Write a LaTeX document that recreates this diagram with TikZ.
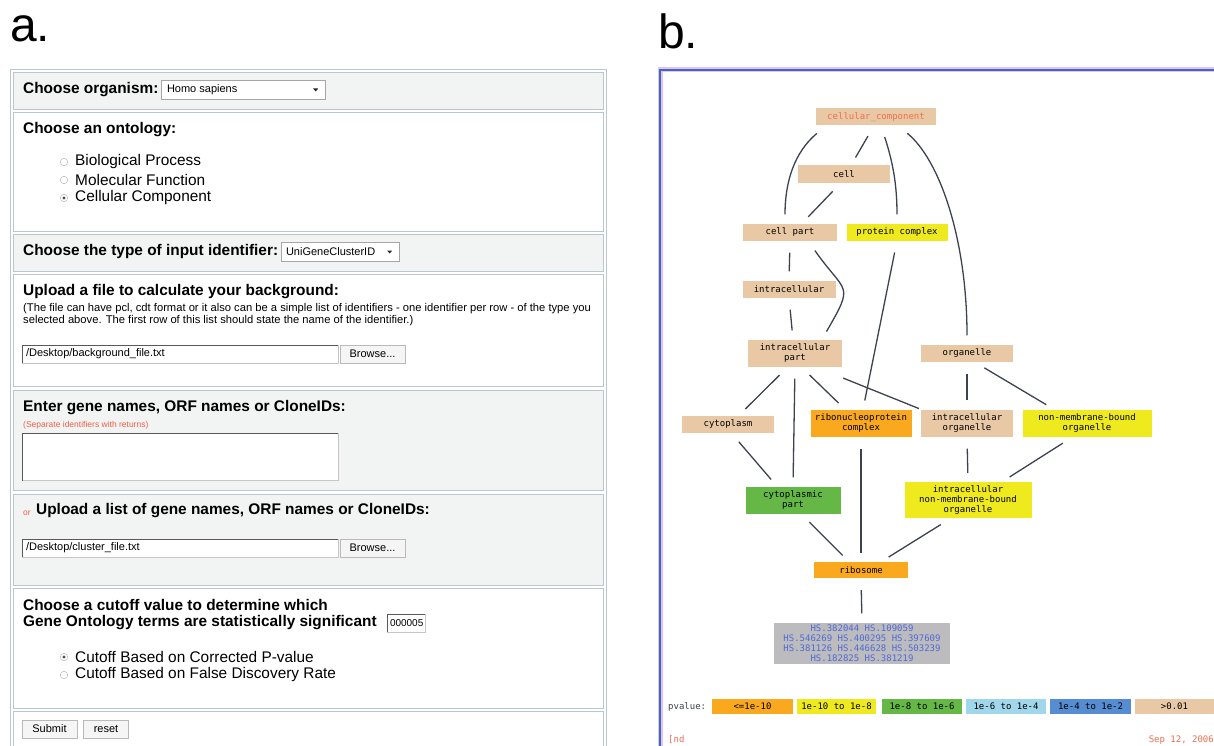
\documentclass[tikz,border=0pt]{standalone}
\usepackage{fontspec}
\setmainfont{Liberation Sans}
\newfontfamily\gofont{DejaVu Sans Mono}

\definecolor{formgray}{RGB}{242,244,244}
\definecolor{framegray}{RGB}{185,200,205}
\definecolor{noteorange}{RGB}{240,95,70}
\definecolor{panelblue}{RGB}{45,110,200}
\definecolor{panelpink}{RGB}{240,190,225}
\definecolor{linkgray}{RGB}{60,66,78}
\definecolor{tanbox}{RGB}{233,201,165}
\definecolor{goorange}{RGB}{250,168,30}
\definecolor{goyellow}{RGB}{238,234,30}
\definecolor{gogreen}{RGB}{102,184,70}
\definecolor{golightblue}{RGB}{160,215,235}
\definecolor{goblue}{RGB}{85,140,210}
\definecolor{genegray}{RGB}{188,188,190}
\definecolor{geneblue}{RGB}{80,105,215}
\definecolor{compred}{RGB}{238,110,80}

\begin{document}
\begin{tikzpicture}[x=1pt,y=-1pt]
	\tikzstyle{panel}=[anchor=base west,inner sep=0pt,font=\fontsize{48}{50}\selectfont]
	\tikzstyle{section}=[draw=framegray,fill=formgray,line width=0.8pt]
	\tikzstyle{sectionw}=[draw=framegray,fill=white,line width=0.8pt]
	\tikzstyle{heading}=[anchor=west,inner sep=0pt,font=\fontsize{15.4}{18}\selectfont\bfseries]
	\tikzstyle{choice}=[anchor=west,inner sep=0pt,font=\fontsize{15.4}{18}\selectfont]
	\tikzstyle{field}=[anchor=west,inner sep=0pt,font=\fontsize{11}{13}\selectfont]
	\tikzstyle{note}=[anchor=north west,inner sep=0pt,align=left,font=\fontsize{11.2}{12.5}\selectfont]
	\tikzstyle{rednote}=[anchor=west,inner sep=0pt,text=noteorange,font=\fontsize{8.5}{10}\selectfont]
	\tikzstyle{dropbox}=[draw=gray!70,fill=white,minimum height=19pt,inner sep=0pt]
	\tikzstyle{inputbox}=[draw=gray!45,fill=white,minimum height=18pt,inner sep=0pt]
	\tikzstyle{button}=[draw=gray!55,fill=gray!8,minimum height=18pt,inner sep=0pt,font=\fontsize{11}{13}\selectfont]
	\tikzstyle{radio}=[circle,draw=gray!60,fill=white,minimum size=7.5pt,inner sep=0pt]
	\tikzstyle{term}=[rectangle,fill=tanbox,minimum height=17pt,inner sep=0pt,align=center,font=\gofont\fontsize{9}{10}\selectfont]
	\tikzstyle{term2}=[term,minimum height=27pt]
	\tikzstyle{term3}=[term,minimum height=36pt]
	\tikzstyle{link}=[draw=linkgray,line width=1.3pt,shorten <=12pt,shorten >=9pt]
	\tikzstyle{key}=[rectangle,minimum height=15pt,inner sep=0pt,font=\gofont\fontsize{9}{10}\selectfont]
	\tikzstyle{foot}=[anchor=west,inner sep=0pt,text=compred,font=\gofont\fontsize{9}{10}\selectfont]
	
	\useasboundingbox (0,0) rectangle (1214,746);
	
	\node[panel](labela) at (10,42){a.};
	\node[panel](labelb) at (658,49){b.};
	
	% form
	\draw[framegray,line width=0.8pt] (10,760) -- (10,69) -- (606,69) -- (606,760);
	\filldraw[section] (13,72) rectangle (603,109);
	\filldraw[sectionw] (13,112) rectangle (603,231);
	\filldraw[section] (13,234) rectangle (603,271);
	\filldraw[sectionw] (13,274) rectangle (603,386);
	\filldraw[section] (13,390) rectangle (603,490);
	\filldraw[section] (13,494) rectangle (603,585);
	\filldraw[sectionw] (13,588) rectangle (603,708);
	\filldraw[sectionw] (13,711) rectangle (603,760);
	
	\node[heading](orglabel) at (23,90){Choose organism:};
	\node[dropbox,minimum width=164pt](orgbox) at (243,90){};
	\node[field](orgtext) at ([xshift=6pt]orgbox.west){Homo sapiens};
	\fill[gray!30!black] ([xshift=-12pt,yshift=1.5pt]orgbox.east) -- ++(5,0) -- ++(-2.5,3) -- cycle;
	
	\node[heading](ontlabel) at (23,130){Choose an ontology:};
	\node[radio](radbp) at (64,162){};
	\node[choice](optbp) at (75,162){Biological Process};
	\node[radio](radmf) at (64,180){};
	\node[choice](optmf) at (75,180){Molecular Function};
	\node[radio](radcc) at (64,198){};
	\node[choice](optcc) at (75,198){Cellular Component};
	\fill[gray!60!black] (radcc) circle (1.6pt);
	
	\node[heading](idlabel) at (23,252){Choose the type of input identifier:};
	\node[dropbox,minimum width=118pt](idbox) at (340,252){};
	\node[field](idtext) at ([xshift=5pt]idbox.west){UniGeneClusterID};
	\fill[gray!30!black] ([xshift=-12pt,yshift=1.5pt]idbox.east) -- ++(5,0) -- ++(-2.5,3) -- cycle;
	
	\node[heading](bglabel) at (23,292){Upload a file to calculate your background:};
	\node[note](bgnote) at (23,303){(The file can have pcl, cdt format or it also can be a simple list of identifiers - one identifier per row - of the type you\\selected above. The first row of this list should state the name of the identifier.)};
	\node[inputbox,minimum width=316pt](bgfile) at (180,354){};
	\draw[gray!70!black] (bgfile.south west) -- (bgfile.north west) -- (bgfile.north east);
	\node[field](bgtext) at ([xshift=4pt]bgfile.west){/Desktop/background\_file.txt};
	\node[button,minimum width=65pt](bgbrowse) at (372.5,354){Browse...};
	
	\node[heading](genelabel) at (23,408){Enter gene names, ORF names or CloneIDs:};
	\node[rednote](genenote) at (23,425){(Separate identifiers with returns)};
	\node[inputbox,minimum width=316pt,minimum height=47pt](genearea) at (180,457){};
	\draw[gray!70!black] (genearea.south west) -- (genearea.north west) -- (genearea.north east);
	
	\node[rednote](orlabel) at (23,513){or};
	\node[heading](listlabel) at (36,511){Upload a list of gene names, ORF names or CloneIDs:};
	\node[inputbox,minimum width=316pt](listfile) at (180,548){};
	\draw[gray!70!black] (listfile.south west) -- (listfile.north west) -- (listfile.north east);
	\node[field](listtext) at ([xshift=4pt]listfile.west){/Desktop/cluster\_file.txt};
	\node[button,minimum width=65pt](listbrowse) at (372.5,548){Browse...};
	
	\node[heading](cutlabel) at (23,605){Choose a cutoff value to determine which};
	\node[heading](cutlabelb) at (23,623){Gene Ontology terms are statistically significant};
	\node[inputbox,minimum width=38pt](cutvalue) at (406,623){};
	\draw[gray!70!black] (cutvalue.south west) -- (cutvalue.north west) -- (cutvalue.north east);
	\node[field,font=\fontsize{10}{12}\selectfont](cuttext) at ([xshift=3pt]cutvalue.west){000005};
	\node[radio](radpv) at (64,657){};
	\node[choice](optpv) at (75,657){Cutoff Based on Corrected P-value};
	\fill[gray!60!black] (radpv) circle (1.6pt);
	\node[radio](radfdr) at (64,675){};
	\node[choice](optfdr) at (75,675){Cutoff Based on False Discovery Rate};
	
	\node[button,minimum width=55pt](submit) at (49.5,729){Submit};
	\node[button,minimum width=45pt](reset) at (106,729){reset};
	
	% GO graph
	\draw[panelpink,line width=5pt] (660,760) -- (660,70) -- (1220,70);
	\draw[panelblue,line width=2.5pt] (660,760) -- (660,70) -- (1220,70);
	
	\node[term,text=compred,minimum width=120pt](cellcomp) at (876,117){cellular\_component};
	\node[term,minimum width=92pt](cell) at (844,174){cell};
	\node[term,minimum width=94pt](cellpart) at (790,232){cell part};
	\node[term,fill=goyellow,minimum width=101pt](protcx) at (897,232){protein complex};
	\node[term,minimum width=93pt](intra) at (789,289){intracellular};
	\node[term2,minimum width=94pt](intrapart) at (795,353){intracellular\\part};
	\node[term,minimum width=92pt](organelle) at (967,353){organelle};
	\node[term,minimum width=92pt](cyto) at (728,424){cytoplasm};
	\node[term2,fill=goorange,minimum width=101pt](ribonuc) at (861,423){ribonucleoprotein\\complex};
	\node[term2,minimum width=92pt](intraorg) at (967,423){intracellular\\organelle};
	\node[term2,fill=goyellow,minimum width=129pt](nmborg) at (1087,423){non-membrane-bound\\organelle};
	\node[term2,fill=gogreen,minimum width=95pt](cytopart) at (793,500){cytoplasmic\\part};
	\node[term3,fill=goyellow,minimum width=127pt](inmborg) at (968,500){intracellular\\non-membrane-bound\\organelle};
	\node[term,fill=goorange,minimum width=94pt,minimum height=16pt](ribosome) at (861,570){ribosome};
	\node[term3,fill=genegray,text=geneblue,minimum width=176pt,minimum height=41pt](genes) at (862,643){HS.382044 HS.109059\\HS.546269 HS.400295 HS.397609\\HS.381126 HS.446628 HS.503239\\HS.182825 HS.381219};
	
	\draw[link] ([xshift=-50pt]cellcomp.south) to[out=220,in=90] ([xshift=-5pt]cellpart.north);
	\draw[link] ([xshift=-2pt]cellcomp.south) -- ([xshift=7pt]cell.north);
	\draw[link] ([xshift=5pt]cellcomp.south) to[out=-72,in=90] (protcx.north);
	\draw[link] ([xshift=22pt]cellcomp.south) .. controls (940,160) and (967,240) .. (organelle.north);
	
	\draw[link] ([xshift=-3pt]cell.south) -- ([xshift=12pt]cellpart.north);
	
	\draw[link] (cellpart.south) -- (intra.north);
	\draw[link] ([xshift=18pt]cellpart.south) to[out=-55,in=60,looseness=1.7] ([xshift=27pt]intrapart.north);
	
	\draw[link] (intra.south) -- ([xshift=-2pt]intrapart.north);
	\draw[link] (protcx.south) -- ([xshift=2pt]ribonuc.north);
	
	\draw[link] (organelle.south) -- (intraorg.north);
	\draw[link] ([xshift=7pt]organelle.south) -- ([xshift=-33pt]nmborg.north);
	
	\draw[link] ([xshift=-7pt]intrapart.south) -- ([xshift=11pt]cyto.north);
	\draw[link] (intrapart.south) -- (cytopart.north);
	\draw[link] ([xshift=6pt]intrapart.south) -- ([xshift=-16pt]ribonuc.north);
	\draw[link,shorten <=1pt,shorten >=2pt] ([yshift=-11pt]intrapart.south east) -- (intraorg.north west);
	
	\draw[link] ([xshift=3pt]cyto.south) -- ([xshift=-16pt]cytopart.north);
	\draw[link] (ribonuc.south) -- (ribosome.north);
	\draw[link] (intraorg.south) -- (inmborg.north);
	\draw[link] ([xshift=-14pt]nmborg.south) -- ([xshift=34pt]inmborg.north);
	
	\draw[link] ([xshift=8pt]cytopart.south) -- ([xshift=-12pt]ribosome.north);
	\draw[link] ([xshift=-17pt]inmborg.south) -- ([xshift=20pt]ribosome.north);
	\draw[link] (ribosome.south) -- (genes.north);
	
	\node[foot,text=linkgray](pvlabel) at (668,707){pvalue:};
	\node[key,fill=goorange,minimum width=81pt](keya) at (752.5,706.5){<=1e-10};
	\node[key,fill=goyellow,minimum width=79pt](keyb) at (836.5,706.5){1e-10 to 1e-8};
	\node[key,fill=gogreen,minimum width=80pt](keyc) at (922,706.5){1e-8 to 1e-6};
	\node[key,fill=golightblue,minimum width=80pt](keyd) at (1006,706.5){1e-6 to 1e-4};
	\node[key,fill=goblue,minimum width=81pt](keye) at (1090.5,706.5){1e-4 to 1e-2};
	\node[key,fill=tanbox,minimum width=79pt](keyf) at (1174.5,706.5){>0.01};
	
	\node[foot](footl) at (668,740){[nd};
	\node[foot,anchor=east](footr) at (1214,740){Sep 12, 2006};
\end{tikzpicture}
\end{document}
